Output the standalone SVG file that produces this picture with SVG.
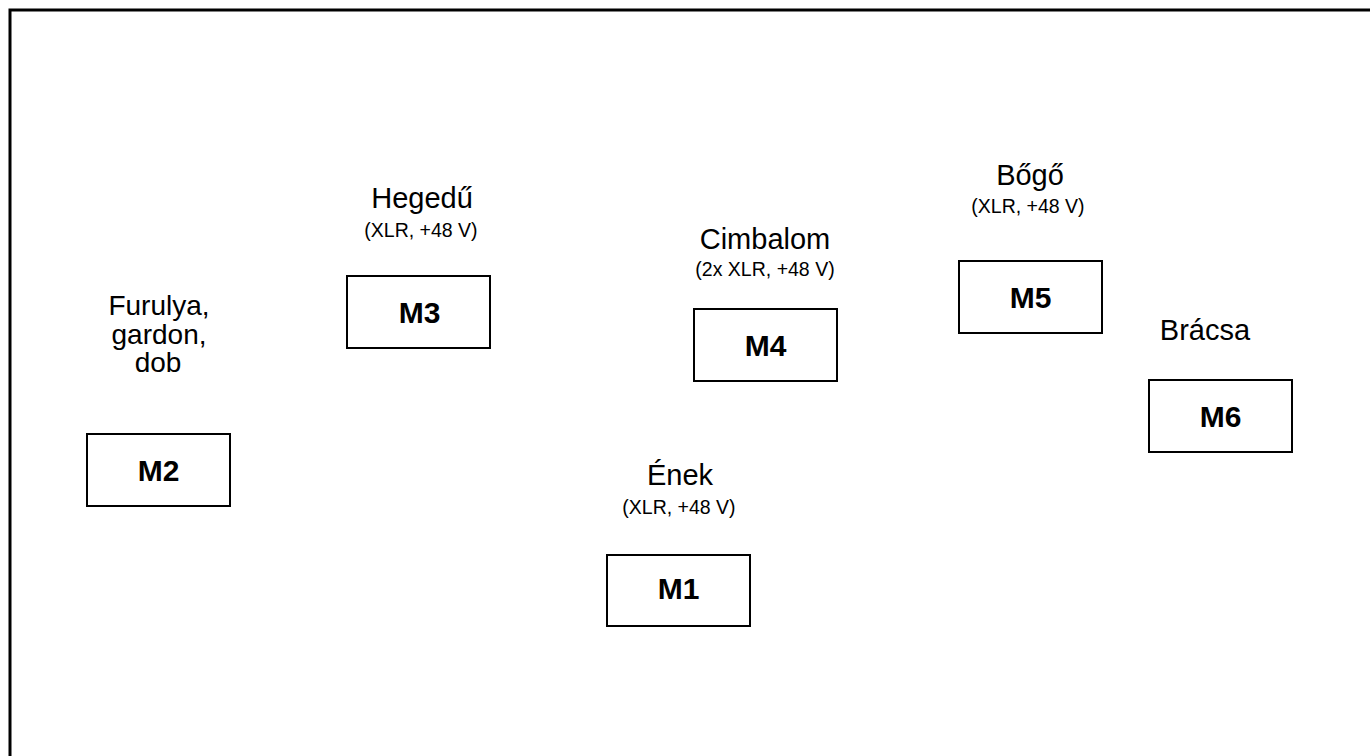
<svg xmlns="http://www.w3.org/2000/svg" width="1370" height="756" viewBox="0 0 1370 756">
<style>
.frame{fill:#fff;stroke:#000;stroke-width:3}
.box{fill:#fff;stroke:#000;stroke-width:2}
.lbl{font-family:"Liberation Sans",Arial,Helvetica,sans-serif;font-size:29px;fill:#000;text-anchor:middle}
.ml{font-size:28px}
.sub{font-family:"Liberation Sans",Arial,Helvetica,sans-serif;font-size:19.5px;fill:#000;text-anchor:middle}
.id{font-family:"Liberation Sans",Arial,Helvetica,sans-serif;font-size:30px;font-weight:bold;fill:#000;text-anchor:middle}
</style>
<rect x="0" y="0" width="1370" height="756" fill="#fff"/>
<rect class="frame" x="10" y="10" width="1400" height="800"/>
<g id="connectors"></g>
<g id="M2">
<text class="lbl ml" x="159" y="315">Furulya,</text>
<text class="lbl ml" x="159" y="343.5">gardon,</text>
<text class="lbl ml" x="158" y="372">dob</text>
<rect class="box" x="87" y="434" width="143" height="72"/>
<text class="id" x="158.5" y="481">M2</text>
</g>
<g id="M3">
<text class="lbl" x="422" y="208">Hegedű</text>
<text class="sub" x="421" y="237">(XLR, +48 V)</text>
<rect class="box" x="347" y="276" width="143" height="72"/>
<text class="id" x="419.5" y="323">M3</text>
</g>
<g id="M4">
<text class="lbl" x="765" y="249">Cimbalom</text>
<text class="sub" x="765" y="276">(2x XLR, +48 V)</text>
<rect class="box" x="694" y="309" width="143" height="72"/>
<text class="id" x="765.5" y="356">M4</text>
</g>
<g id="M1">
<text class="lbl" x="680" y="485">Ének</text>
<text class="sub" x="679" y="514">(XLR, +48 V)</text>
<rect class="box" x="607" y="555" width="143" height="71"/>
<text class="id" x="678.5" y="599">M1</text>
</g>
<g id="M5">
<text class="lbl" x="1030" y="185">Bőgő</text>
<text class="sub" x="1028" y="213">(XLR, +48 V)</text>
<rect class="box" x="959" y="261" width="143" height="72"/>
<text class="id" x="1030.5" y="308">M5</text>
</g>
<g id="M6">
<text class="lbl" x="1205" y="340">Brácsa</text>
<rect class="box" x="1149" y="380" width="143" height="72"/>
<text class="id" x="1220.5" y="427">M6</text>
</g>
</svg>
